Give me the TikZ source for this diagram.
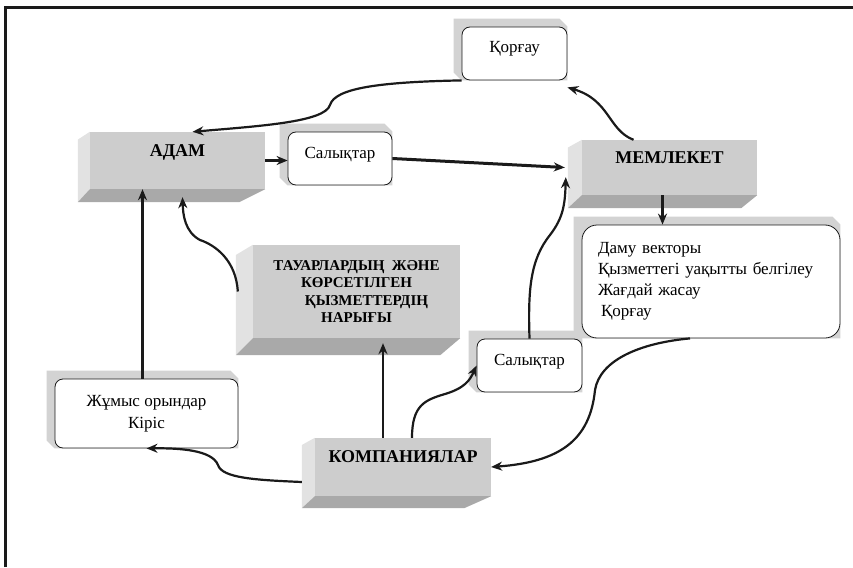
\documentclass[tikz,border=0pt]{standalone}
\usepackage{fontspec}
\setmainfont{Liberation Serif}
\usetikzlibrary{arrows.meta, positioning, calc, backgrounds}
\definecolor{kzfront}{HTML}{CDCDCD}
\definecolor{kzside}{HTML}{E2E2E2}
\definecolor{kzbase}{HTML}{A9A9A9}
\definecolor{kzshadow}{HTML}{D3D3D3}
\definecolor{kzline}{HTML}{1A1A1A}

% side and bottom faces of a box: node, depth x, depth y, right slant
\newcommand{\cubefaces}[4]{%
  \fill[kzside] (#1.north west) -- (#1.south west) -- ++(-#2,#3) -- ($(#1.north west)+(-#2,0.6*#3)$) -- cycle;
  \fill[kzbase] (#1.south west) -- (#1.south east) -- ++(-#4,#3) -- ($(#1.south west)+(-#2,#3)$) -- cycle;
}
% grey shadow up and left of a white box
\newcommand{\backshadow}[2]{%
  \fill[kzshadow] ($(#1.north west)+(-#2,-#2)$) -- ($(#1.north east)+(-#2,-#2)$) -- (#1.north east)
    -- (#1.south east) -- (#1.south west) -- ($(#1.south west)+(-#2,-#2)$) -- cycle;
}

\begin{document}
\begin{tikzpicture}[
  x=1pt, y=-1pt,
  cube/.style={rectangle, fill=kzfront, inner sep=0pt, align=center, font=\fontsize{18}{21}\selectfont\bfseries},
  raised/.style={text height=12pt, text depth=21pt},
  wbox/.style={rectangle, rounded corners=8pt, draw=kzline, fill=white, line width=0.8pt, inner sep=0pt, align=center, font=\fontsize{17}{22}\selectfont},
  flow/.style={-{Stealth[length=11pt, width=9pt]}, line width=2.2pt, kzline},
  bigflow/.style={flow, line width=3pt},
]
\useasboundingbox (0,0) rectangle (853,567);

% frame
\draw[line width=3pt, kzline] (5,567) -- (5,8) -- (853,8);

% main boxes
\node[cube, raised, minimum width=175pt, minimum height=57pt] (adam) at (177.5,160.5) {АДАМ};
\node[cube, raised, minimum width=175pt, minimum height=55pt] (memleket) at (669.5,167.5) {МЕМЛЕКЕТ};
\node[cube, minimum width=207pt, minimum height=93pt, font=\fontsize{15}{17.5}\selectfont\bfseries] (market) at (356.5,291.5)
  {ТАУАРЛАРДЫҢ\ \ ЖӘНЕ\\КӨРСЕТІЛГЕН\\\hspace*{20pt}ҚЫЗМЕТТЕРДІҢ\\НАРЫҒЫ};
\node[cube, raised, minimum width=176pt, minimum height=58pt] (company) at (403,467) {КОМПАНИЯЛАР};

% white boxes
\node[wbox, minimum width=105pt, minimum height=53pt, text height=11pt, text depth=12pt] (protect) at (514.5,53.5) {Қорғау};
\node[wbox, minimum width=104pt, minimum height=53pt, text height=11pt, text depth=12pt] (taxtop) at (340,158.5) {Салықтар};
\node[wbox, minimum width=105pt, minimum height=53pt, text height=11pt, text depth=12pt] (taxlow) at (529.5,365.5) {Салықтар};
\node[wbox, minimum width=183pt, minimum height=69pt] (jobs) at (146.5,413.5) {Жұмыс орындар\\Кіріс};
\node[wbox, rounded corners=15pt, minimum width=258pt, minimum height=113pt, text width=226pt, align=left,
  font=\fontsize{17}{21}\selectfont] (goals) at (711,281.5)
  {Даму векторы\\Қызметтегі уақытты белгілеу\\Жағдай жасау\\\hspace*{3pt}Қорғау};

\begin{scope}[on background layer]
  \cubefaces{adam}{12}{13}{26}
  \cubefaces{memleket}{14}{13}{16}
  \cubefaces{market}{17}{17}{20}
  \cubefaces{company}{13}{12}{27}
  \backshadow{protect}{8}
  \backshadow{taxtop}{8}
  \backshadow{taxlow}{8}
  \backshadow{jobs}{8}
  \backshadow{goals}{8}
\end{scope}

% connections
\draw[flow] (protect.south west) .. controls (380,82) and (335,88) .. (330,105)
  .. controls (325,122) and (260,126) .. ($(adam.north)+(15,0)$);
\draw[flow] ($(memleket.north)+(-36,0)$) .. controls (608,130) and (610,100) .. ($(protect.south east)+(0,7)$);
\draw[bigflow] (adam.east) -- (adam.east -| taxtop.west);
\draw[bigflow] (taxtop.east) -- ($(memleket.west)+(-17,0)$);
\draw[flow] ($(memleket.south)+(-7,0)$) -- ($(memleket.south |- goals.north)+(-7,0)$);
\draw[flow] ($(goals.south)+(-21,0)$) .. controls (640,343) and (600,360) .. (595,390)
  .. controls (590,440) and (560,462) .. (company.east);
\draw[flow] ($(company.north)+(9,0)$) .. controls (412,405) and (425,400) .. (445,394)
  .. controls (465,388) and (470,380) .. (taxlow.west);
\draw[flow] (taxlow.north) .. controls (528,290) and (530,260) .. (550,235)
  .. controls (563,218) and (565,205) .. ($(memleket.south west)+(-16,-18)$);
\draw[flow] ($(company.north)+(-20,0)$) -- ($(company.north |- market.south)+(-20,5)$);
\draw[flow] ($(company.west)+(-13,15)$) .. controls (255,480) and (222,478) .. (218,465)
  .. controls (212,450) and (180,448) .. (jobs.south);
\draw[bigflow] ($(jobs.north)+(-4,0)$) -- ($(jobs.north |- adam.south)+(-4,0)$);
\draw[flow] ($(market.west)+(-15,0)$) .. controls (236,260) and (215,245) .. (200,240)
  .. controls (185,232) and (183,215) .. ($(adam.south)+(5,8)$);

\end{tikzpicture}
\end{document}
